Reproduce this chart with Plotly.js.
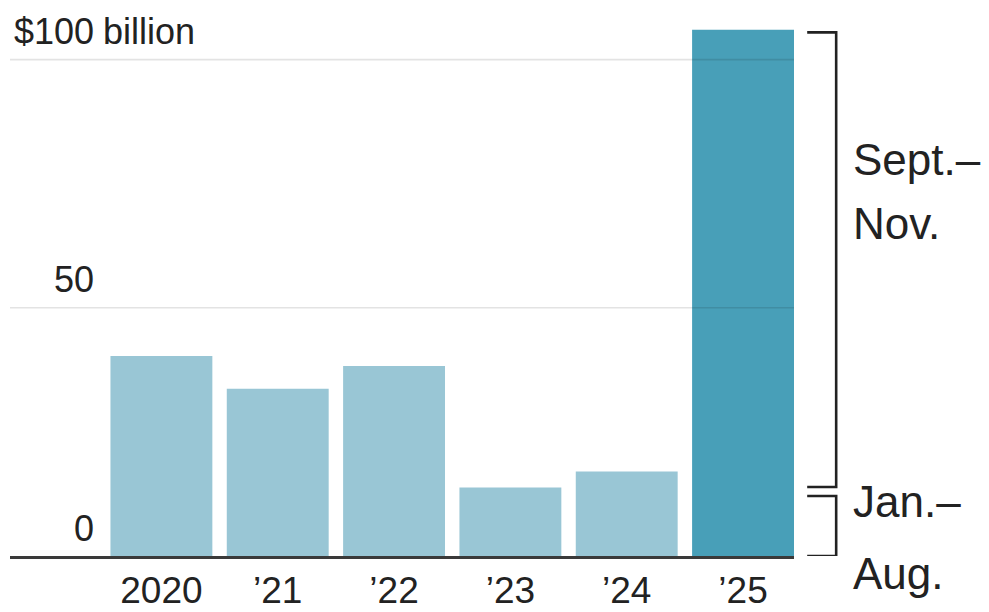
<!DOCTYPE html>
<html>
<head>
<meta charset="utf-8">
<script src="https://cdn.plot.ly/plotly-3.0.1.min.js"></script>
<style>
  html, body { margin: 0; padding: 0; background: #ffffff; }
  #chart { width: 989px; height: 612px; }
</style>
</head>
<body>
<div id="chart"></div>
<script>
// Annual totals, billions of dollars
const years = ['2020', '\u201921', '\u201922', '\u201923', '\u201924', '\u201925'];
const totals = [40.3, 33.7, 38.3, 13.8, 17.0, 106.0];
// 2025 split: first eight months vs. September–November
const janAug2025 = 13.0;
const septNov2025 = 93.0;

const yTickVals = [0, 50, 100];
const yTickText = ['0', '50', '$100'];
const yUnitText = 'billion';
const periodLabels = [['Sept.\u2013', 'Nov.'], ['Jan.\u2013', 'Aug.']];

const LIGHT = '#99c6d5';
const DARK = '#489fb8';
const INK = '#222222';
const FONT = '"Liberation Sans", Arial, sans-serif';

const barColors = years.map((_, i) => (i === years.length - 1 ? DARK : LIGHT));

const trace = {
  type: 'bar',
  x: years,
  y: totals,
  marker: { color: barColors, line: { width: 0 } },
  hoverinfo: 'skip'
};

// Pixel helpers for paper coordinates
const M = { l: 10, r: 194.5, t: 10.4, b: 56 };
const plotW = 989 - M.l - M.r;
const plotH = 612 - M.t - M.b;
const px = (x) => (x - M.l) / plotW;
const py = (y) => (612 - M.b - y) / plotH;

const shapes = [];
// light gridlines drawn over the bars so they show through the tall bar
yTickVals.filter(v => v > 0).forEach(v => {
  shapes.push({
    type: 'line', xref: 'paper', yref: 'y', x0: 0, x1: 1, y0: v, y1: v,
    layer: 'above', line: { color: 'rgba(0,0,0,0.11)', width: 1.6 }
  });
});

// brackets beside the 2025 bar
const bx0 = px(807.7), bx1 = px(836.7);
const gap = 0.9;
function bracket(lo, hi) {
  return {
    type: 'path', xref: 'paper', yref: 'y',
    path: `M ${bx0} ${hi} L ${bx1} ${hi} L ${bx1} ${lo} L ${bx0} ${lo}`,
    line: { color: INK, width: 2.6 }, layer: 'above'
  };
}
shapes.push(bracket(janAug2025 + gap, janAug2025 + septNov2025 - 0.5));
shapes.push(bracket(0, janAug2025 - gap));

const annotations = [];
// value-axis labels sitting above their gridlines
yTickVals.forEach((v, i) => {
  annotations.push({
    xref: 'paper', yref: 'y', x: px(96), y: v, yshift: 28,
    xanchor: 'right', yanchor: 'middle', showarrow: false,
    text: yTickText[i], font: { family: FONT, size: 36, color: INK }
  });
});
annotations.push({
  xref: 'paper', yref: 'y', x: px(101), y: yTickVals[yTickVals.length - 1], yshift: 28,
  xanchor: 'left', yanchor: 'middle', showarrow: false,
  text: yUnitText, font: { family: FONT, size: 36, color: INK }
});

// period labels next to the brackets
const labelRows = [[160, 224], [502, 573]];
periodLabels.forEach((lines, k) => {
  lines.forEach((t, j) => {
    annotations.push({
      xref: 'paper', yref: 'paper', x: px(852), y: py(labelRows[k][j]),
      xanchor: 'left', yanchor: 'middle', showarrow: false,
      text: t, font: { family: FONT, size: 44, color: INK }
    });
  });
});

const layout = {
  width: 989, height: 612,
  margin: M,
  paper_bgcolor: '#ffffff', plot_bgcolor: '#ffffff',
  showlegend: false,
  bargap: 0.124,
  xaxis: {
    type: 'category',
    range: [-1.3015, 5.438],
    showgrid: false, zeroline: false,
    showline: true, linecolor: '#3a3a3a', linewidth: 2.5,
    ticks: '', ticklabelstandoff: 0,
    tickfont: { family: FONT, size: 37, color: INK },
    fixedrange: true
  },
  yaxis: {
    range: [0, 110],
    showgrid: false, zeroline: false, showline: false,
    showticklabels: false, ticks: '',
    fixedrange: true
  },
  shapes: shapes,
  annotations: annotations
};

Plotly.newPlot('chart', [trace], layout, { displayModeBar: false, staticPlot: true });
</script>
</body>
</html>
